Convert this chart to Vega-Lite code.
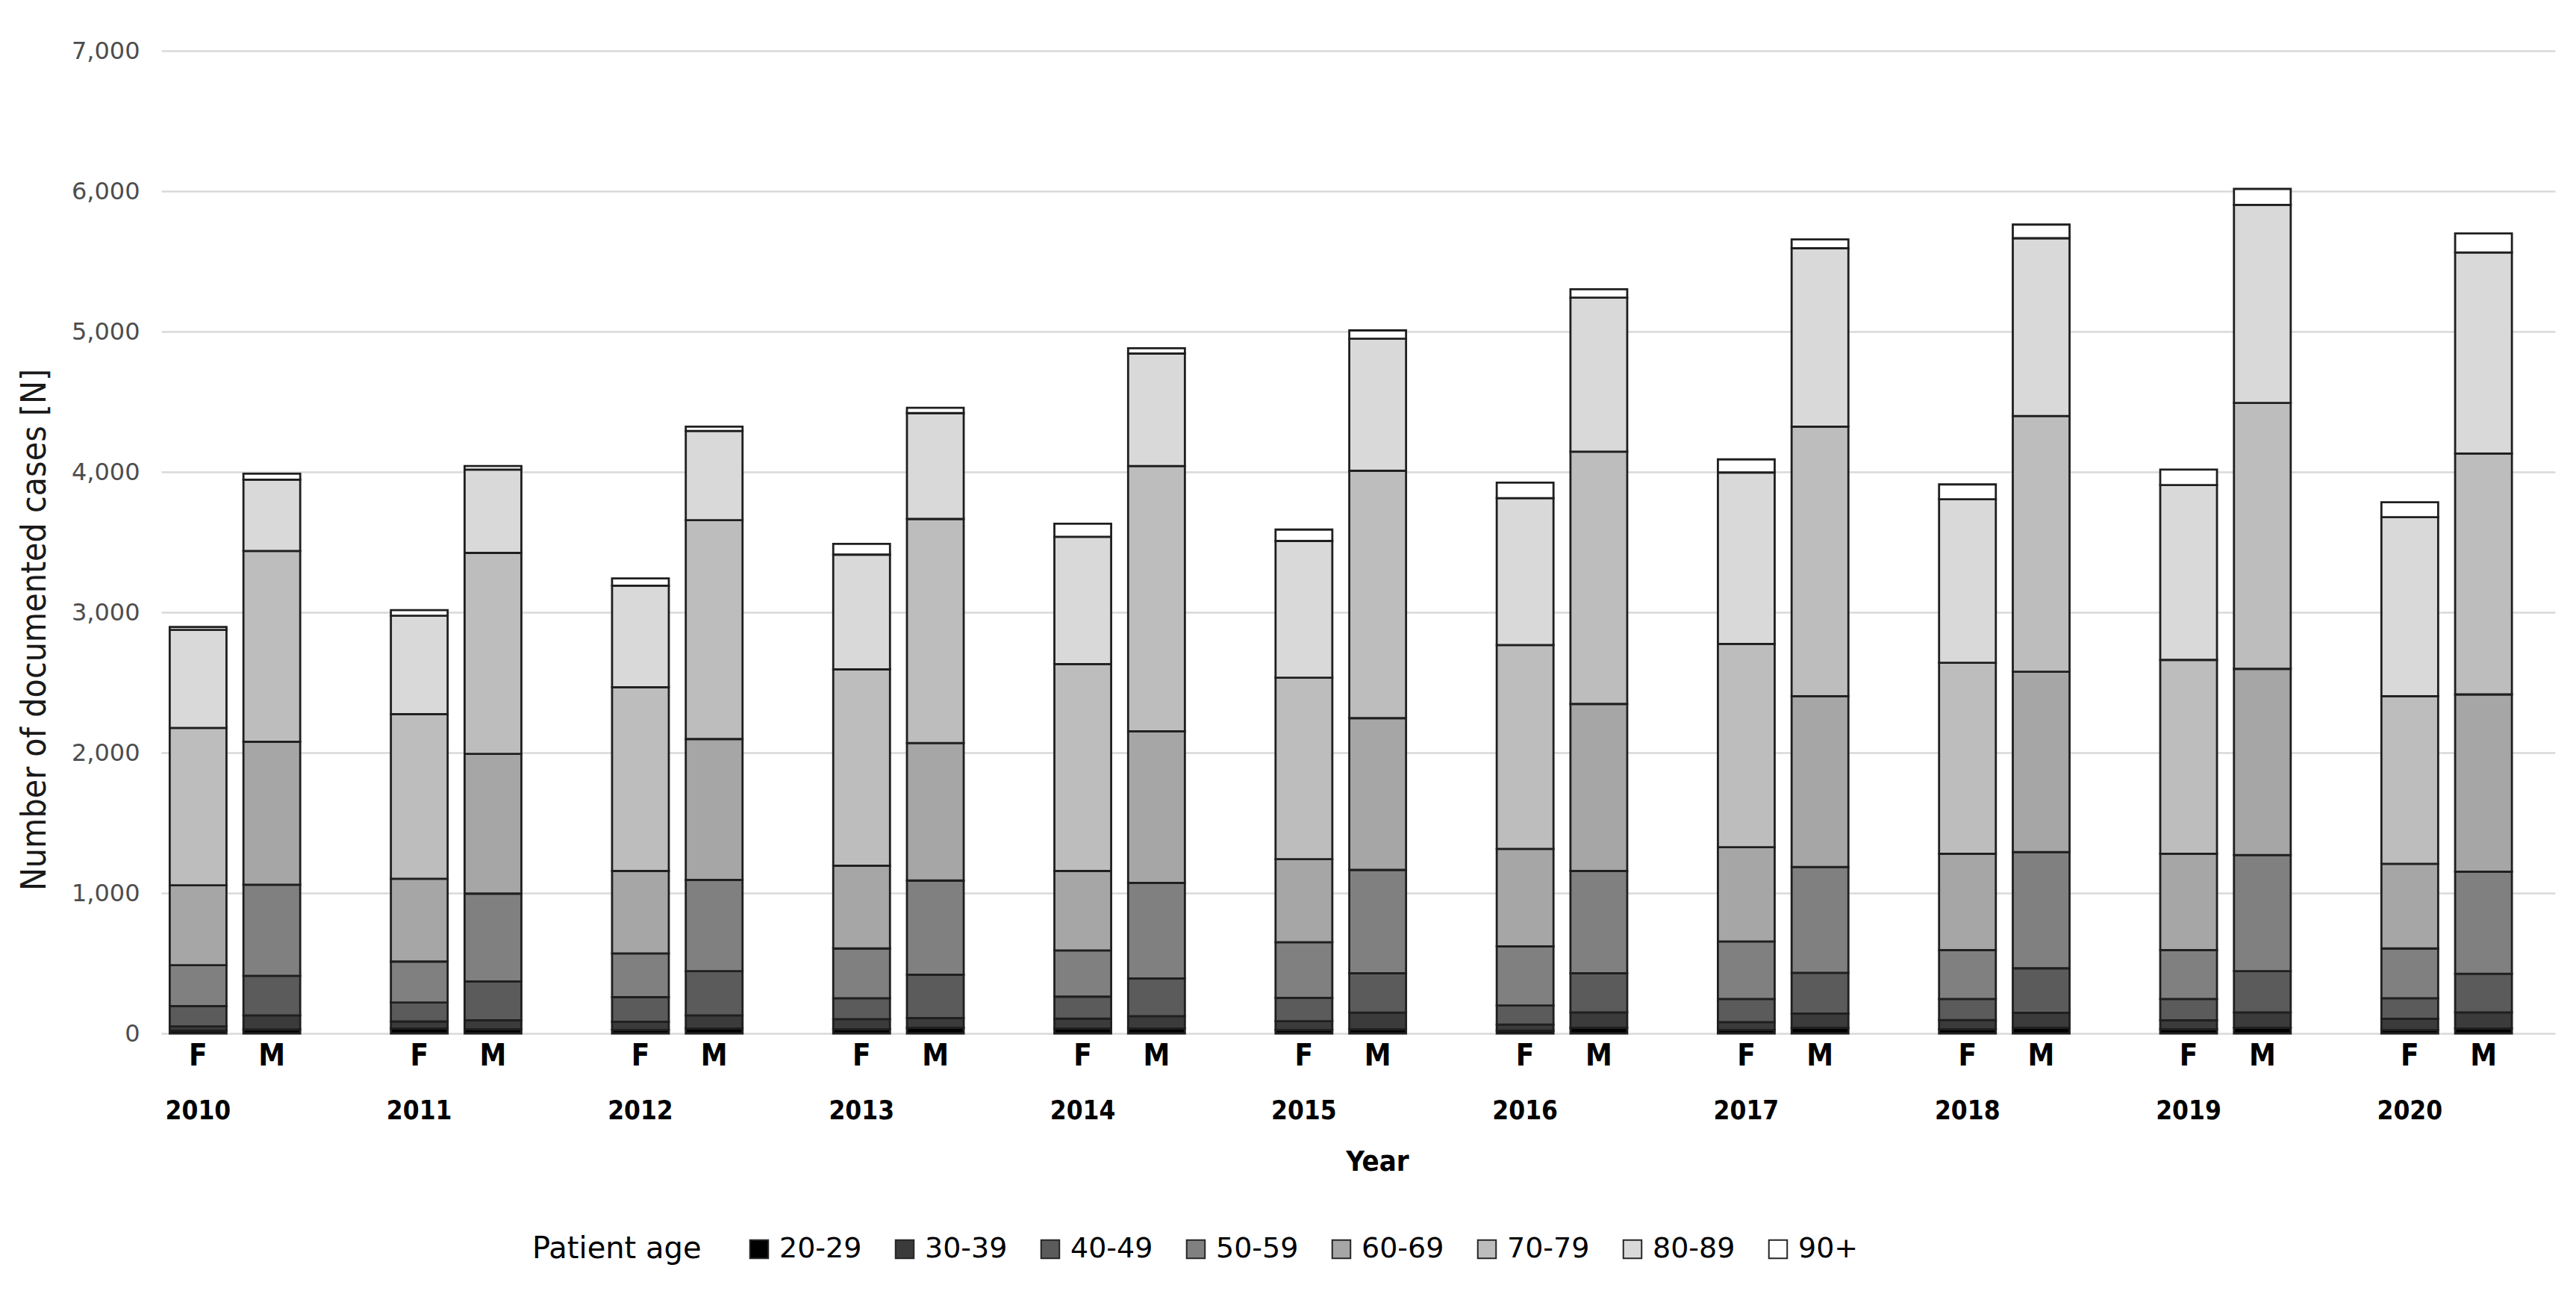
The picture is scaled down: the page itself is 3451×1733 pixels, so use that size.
{
  "$schema": "https://vega.github.io/schema/vega-lite/v6.json",
  "width": 3207,
  "height": 1316,
  "autosize": {"type": "none"},
  "padding": {"left": 216, "top": 68, "right": 28, "bottom": 349},
  "background": "white",
  "config": {"view": {"stroke": null}, "font": "DejaVu Sans"},
  "datasets": {
    "cases": [
      {"year":"2010","sex":"F","age":"20-29","n":20},{"year":"2010","sex":"F","age":"30-39","n":30},{"year":"2010","sex":"F","age":"40-49","n":145},{"year":"2010","sex":"F","age":"50-59","n":291},{"year":"2010","sex":"F","age":"60-69","n":569},{"year":"2010","sex":"F","age":"70-79","n":1121},{"year":"2010","sex":"F","age":"80-89","n":698},{"year":"2010","sex":"F","age":"90+","n":21},
      {"year":"2010","sex":"M","age":"20-29","n":28},{"year":"2010","sex":"M","age":"30-39","n":100},{"year":"2010","sex":"M","age":"40-49","n":282},{"year":"2010","sex":"M","age":"50-59","n":649},{"year":"2010","sex":"M","age":"60-69","n":1019},{"year":"2010","sex":"M","age":"70-79","n":1359},{"year":"2010","sex":"M","age":"80-89","n":508},{"year":"2010","sex":"M","age":"90+","n":42},
      {"year":"2011","sex":"F","age":"20-29","n":35},{"year":"2011","sex":"F","age":"30-39","n":50},{"year":"2011","sex":"F","age":"40-49","n":135},{"year":"2011","sex":"F","age":"50-59","n":292},{"year":"2011","sex":"F","age":"60-69","n":590},{"year":"2011","sex":"F","age":"70-79","n":1173},{"year":"2011","sex":"F","age":"80-89","n":700},{"year":"2011","sex":"F","age":"90+","n":40},
      {"year":"2011","sex":"M","age":"20-29","n":30},{"year":"2011","sex":"M","age":"30-39","n":63},{"year":"2011","sex":"M","age":"40-49","n":277},{"year":"2011","sex":"M","age":"50-59","n":626},{"year":"2011","sex":"M","age":"60-69","n":995},{"year":"2011","sex":"M","age":"70-79","n":1432},{"year":"2011","sex":"M","age":"80-89","n":594},{"year":"2011","sex":"M","age":"90+","n":25},
      {"year":"2012","sex":"F","age":"20-29","n":25},{"year":"2012","sex":"F","age":"30-39","n":58},{"year":"2012","sex":"F","age":"40-49","n":175},{"year":"2012","sex":"F","age":"50-59","n":312},{"year":"2012","sex":"F","age":"60-69","n":587},{"year":"2012","sex":"F","age":"70-79","n":1309},{"year":"2012","sex":"F","age":"80-89","n":724},{"year":"2012","sex":"F","age":"90+","n":51},
      {"year":"2012","sex":"M","age":"20-29","n":35},{"year":"2012","sex":"M","age":"30-39","n":93},{"year":"2012","sex":"M","age":"40-49","n":316},{"year":"2012","sex":"M","age":"50-59","n":649},{"year":"2012","sex":"M","age":"60-69","n":1004},{"year":"2012","sex":"M","age":"70-79","n":1559},{"year":"2012","sex":"M","age":"80-89","n":636},{"year":"2012","sex":"M","age":"90+","n":30},
      {"year":"2013","sex":"F","age":"20-29","n":30},{"year":"2013","sex":"F","age":"30-39","n":72},{"year":"2013","sex":"F","age":"40-49","n":149},{"year":"2013","sex":"F","age":"50-59","n":354},{"year":"2013","sex":"F","age":"60-69","n":590},{"year":"2013","sex":"F","age":"70-79","n":1398},{"year":"2013","sex":"F","age":"80-89","n":818},{"year":"2013","sex":"F","age":"90+","n":76},
      {"year":"2013","sex":"M","age":"20-29","n":40},{"year":"2013","sex":"M","age":"30-39","n":70},{"year":"2013","sex":"M","age":"40-49","n":308},{"year":"2013","sex":"M","age":"50-59","n":671},{"year":"2013","sex":"M","age":"60-69","n":979},{"year":"2013","sex":"M","age":"70-79","n":1597},{"year":"2013","sex":"M","age":"80-89","n":754},{"year":"2013","sex":"M","age":"90+","n":38},
      {"year":"2014","sex":"F","age":"20-29","n":35},{"year":"2014","sex":"F","age":"30-39","n":70},{"year":"2014","sex":"F","age":"40-49","n":157},{"year":"2014","sex":"F","age":"50-59","n":329},{"year":"2014","sex":"F","age":"60-69","n":566},{"year":"2014","sex":"F","age":"70-79","n":1474},{"year":"2014","sex":"F","age":"80-89","n":907},{"year":"2014","sex":"F","age":"90+","n":93},
      {"year":"2014","sex":"M","age":"20-29","n":35},{"year":"2014","sex":"M","age":"30-39","n":88},{"year":"2014","sex":"M","age":"40-49","n":269},{"year":"2014","sex":"M","age":"50-59","n":680},{"year":"2014","sex":"M","age":"60-69","n":1080},{"year":"2014","sex":"M","age":"70-79","n":1890},{"year":"2014","sex":"M","age":"80-89","n":801},{"year":"2014","sex":"M","age":"90+","n":38},
      {"year":"2015","sex":"F","age":"20-29","n":25},{"year":"2015","sex":"F","age":"30-39","n":62},{"year":"2015","sex":"F","age":"40-49","n":166},{"year":"2015","sex":"F","age":"50-59","n":397},{"year":"2015","sex":"F","age":"60-69","n":591},{"year":"2015","sex":"F","age":"70-79","n":1293},{"year":"2015","sex":"F","age":"80-89","n":974},{"year":"2015","sex":"F","age":"90+","n":81},
      {"year":"2015","sex":"M","age":"20-29","n":30},{"year":"2015","sex":"M","age":"30-39","n":118},{"year":"2015","sex":"M","age":"40-49","n":281},{"year":"2015","sex":"M","age":"50-59","n":736},{"year":"2015","sex":"M","age":"60-69","n":1081},{"year":"2015","sex":"M","age":"70-79","n":1762},{"year":"2015","sex":"M","age":"80-89","n":941},{"year":"2015","sex":"M","age":"90+","n":59},
      {"year":"2016","sex":"F","age":"20-29","n":20},{"year":"2016","sex":"F","age":"30-39","n":43},{"year":"2016","sex":"F","age":"40-49","n":136},{"year":"2016","sex":"F","age":"50-59","n":421},{"year":"2016","sex":"F","age":"60-69","n":694},{"year":"2016","sex":"F","age":"70-79","n":1453},{"year":"2016","sex":"F","age":"80-89","n":1046},{"year":"2016","sex":"F","age":"90+","n":111},
      {"year":"2016","sex":"M","age":"20-29","n":40},{"year":"2016","sex":"M","age":"30-39","n":110},{"year":"2016","sex":"M","age":"40-49","n":279},{"year":"2016","sex":"M","age":"50-59","n":728},{"year":"2016","sex":"M","age":"60-69","n":1190},{"year":"2016","sex":"M","age":"70-79","n":1797},{"year":"2016","sex":"M","age":"80-89","n":1097},{"year":"2016","sex":"M","age":"90+","n":60},
      {"year":"2017","sex":"F","age":"20-29","n":25},{"year":"2017","sex":"F","age":"30-39","n":55},{"year":"2017","sex":"F","age":"40-49","n":165},{"year":"2017","sex":"F","age":"50-59","n":410},{"year":"2017","sex":"F","age":"60-69","n":671},{"year":"2017","sex":"F","age":"70-79","n":1449},{"year":"2017","sex":"F","age":"80-89","n":1221},{"year":"2017","sex":"F","age":"90+","n":93},
      {"year":"2017","sex":"M","age":"20-29","n":40},{"year":"2017","sex":"M","age":"30-39","n":101},{"year":"2017","sex":"M","age":"40-49","n":290},{"year":"2017","sex":"M","age":"50-59","n":755},{"year":"2017","sex":"M","age":"60-69","n":1216},{"year":"2017","sex":"M","age":"70-79","n":1920},{"year":"2017","sex":"M","age":"80-89","n":1271},{"year":"2017","sex":"M","age":"90+","n":63},
      {"year":"2018","sex":"F","age":"20-29","n":30},{"year":"2018","sex":"F","age":"30-39","n":65},{"year":"2018","sex":"F","age":"40-49","n":150},{"year":"2018","sex":"F","age":"50-59","n":349},{"year":"2018","sex":"F","age":"60-69","n":686},{"year":"2018","sex":"F","age":"70-79","n":1360},{"year":"2018","sex":"F","age":"80-89","n":1165},{"year":"2018","sex":"F","age":"90+","n":106},
      {"year":"2018","sex":"M","age":"20-29","n":40},{"year":"2018","sex":"M","age":"30-39","n":107},{"year":"2018","sex":"M","age":"40-49","n":317},{"year":"2018","sex":"M","age":"50-59","n":828},{"year":"2018","sex":"M","age":"60-69","n":1284},{"year":"2018","sex":"M","age":"70-79","n":1822},{"year":"2018","sex":"M","age":"80-89","n":1267},{"year":"2018","sex":"M","age":"90+","n":97},
      {"year":"2019","sex":"F","age":"20-29","n":30},{"year":"2019","sex":"F","age":"30-39","n":64},{"year":"2019","sex":"F","age":"40-49","n":151},{"year":"2019","sex":"F","age":"50-59","n":349},{"year":"2019","sex":"F","age":"60-69","n":686},{"year":"2019","sex":"F","age":"70-79","n":1381},{"year":"2019","sex":"F","age":"80-89","n":1245},{"year":"2019","sex":"F","age":"90+","n":111},
      {"year":"2019","sex":"M","age":"20-29","n":40},{"year":"2019","sex":"M","age":"30-39","n":110},{"year":"2019","sex":"M","age":"40-49","n":294},{"year":"2019","sex":"M","age":"50-59","n":827},{"year":"2019","sex":"M","age":"60-69","n":1326},{"year":"2019","sex":"M","age":"70-79","n":1894},{"year":"2019","sex":"M","age":"80-89","n":1411},{"year":"2019","sex":"M","age":"90+","n":114},
      {"year":"2020","sex":"F","age":"20-29","n":25},{"year":"2020","sex":"F","age":"30-39","n":79},{"year":"2020","sex":"F","age":"40-49","n":147},{"year":"2020","sex":"F","age":"50-59","n":354},{"year":"2020","sex":"F","age":"60-69","n":603},{"year":"2020","sex":"F","age":"70-79","n":1194},{"year":"2020","sex":"F","age":"80-89","n":1276},{"year":"2020","sex":"F","age":"90+","n":106},
      {"year":"2020","sex":"M","age":"20-29","n":35},{"year":"2020","sex":"M","age":"30-39","n":115},{"year":"2020","sex":"M","age":"40-49","n":275},{"year":"2020","sex":"M","age":"50-59","n":727},{"year":"2020","sex":"M","age":"60-69","n":1263},{"year":"2020","sex":"M","age":"70-79","n":1716},{"year":"2020","sex":"M","age":"80-89","n":1432},{"year":"2020","sex":"M","age":"90+","n":136}
    ]
  },
  "data": {"name": "cases"},
  "layer": [
    {
      "mark": {"type": "bar", "stroke": "#1f1f1f", "strokeWidth": 2.8},
      "encoding": {
        "x": {
          "field": "year", "type": "ordinal",
          "scale": {"paddingInner": 0.3333, "paddingOuter": 0.0785, "align": 0},
          "axis": {
            "title": "Year", "labelAngle": 0, "labelOffset": -49.4, "labelPadding": 86,
            "labelFontSize": 35, "labelFontWeight": "bold", "labelFont": "DejaVu Sans Condensed, Liberation Sans Narrow, DejaVu Sans",
            "labelColor": "#000000", "domain": false, "ticks": false, "grid": false,
            "titleFontSize": 38, "titleFontWeight": "bold", "titleFont": "DejaVu Sans Condensed, DejaVu Sans",
            "titleColor": "#000000", "titleX": 1629, "titleY": 172, "titleBaseline": "middle", "titleAlign": "center"
          }
        },
        "xOffset": {"field": "sex", "type": "nominal", "scale": {"domain": ["F", "M"], "paddingInner": 0.23, "paddingOuter": 0.115}},
        "y": {
          "field": "n", "type": "quantitative", "stack": "zero",
          "scale": {"domain": [0, 7000], "nice": false},
          "axis": {
            "values": [0, 1000, 2000, 3000, 4000, 5000, 6000, 7000], "format": ",.0f",
            "labelFontSize": 32, "labelColor": "#4d4d4d", "labelPadding": 29,
            "domain": false, "ticks": false, "gridColor": "#d9d9d9", "gridWidth": 2.5,
            "title": "Number of documented cases [N]", "titleFontSize": 46, "titleFontWeight": "normal",
            "titleFont": "DejaVu Sans Condensed, Liberation Sans Narrow, DejaVu Sans", "titleColor": "#1a1a1a",
            "titleAngle": -90, "titleX": -170, "titleY": 775, "titleAlign": "center", "titleBaseline": "middle"
          }
        },
        "color": {
          "field": "age", "type": "nominal",
          "scale": {
            "domain": ["20-29", "30-39", "40-49", "50-59", "60-69", "70-79", "80-89", "90+"],
            "range": ["#000000", "#3b3b3b", "#5b5b5b", "#808080", "#a6a6a6", "#bdbdbd", "#d9d9d9", "#ffffff"]
          },
          "legend": {
            "title": "Patient age", "orient": "none", "legendX": 497, "legendY": 1586,
            "direction": "horizontal", "titleOrient": "left", "titleLimit": 600,
            "titleFontSize": 40, "titleFontWeight": "normal", "titleColor": "#000000", "titlePadding": 58,
            "labelFontSize": 38, "labelColor": "#000000", "labelOffset": 8, "columnPadding": 38, "labelLimit": 400,
            "symbolType": "square", "symbolSize": 600, "symbolStrokeColor": "#262626", "symbolStrokeWidth": 2
          }
        },
        "order": {"field": "age", "type": "nominal", "sort": "ascending"}
      }
    },
    {
      "transform": [{"filter": "datum.age === '20-29'"}],
      "mark": {"type": "text", "dy": 31, "baseline": "middle", "align": "center", "fontSize": 40, "fontWeight": "bold", "font": "DejaVu Sans Condensed, Liberation Sans Narrow, DejaVu Sans", "color": "#000000"},
      "encoding": {
        "x": {"field": "year", "type": "ordinal"},
        "xOffset": {"field": "sex", "type": "nominal"},
        "y": {"datum": 0},
        "text": {"field": "sex"}
      }
    }
  ]
}
